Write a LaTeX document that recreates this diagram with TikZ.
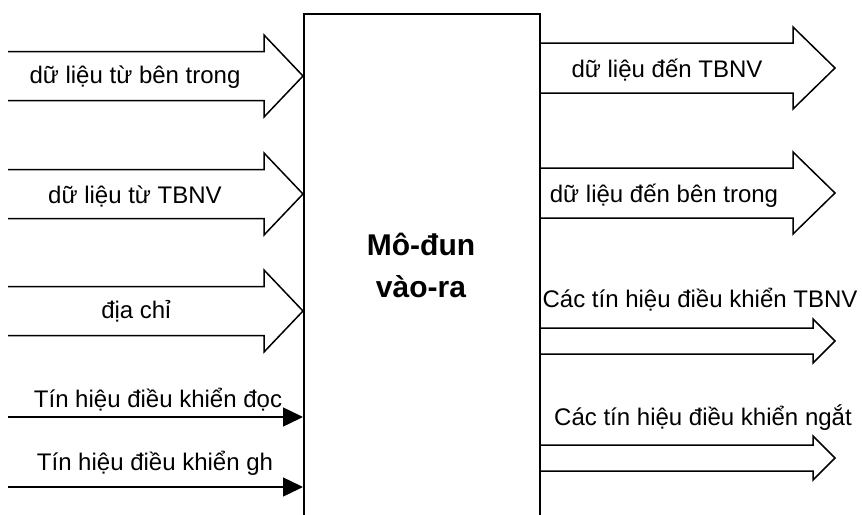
\documentclass[tikz,border=0pt]{standalone}
\usepackage{fontspec}
\setmainfont{Liberation Sans}
\usetikzlibrary{arrows.meta}
\begin{document}
\begin{tikzpicture}[x=1pt,y=-1pt,line width=1.5pt,
  lbl/.style={anchor=base,inner sep=0pt,font=\fontsize{24}{28}\selectfont}]
\useasboundingbox (0,0) rectangle (862,514);

\node[draw,anchor=north west,minimum width=236pt,minimum height=530pt,inner sep=0pt] (mod) at (303,13) {};
\node[align=center,font=\fontsize{30}{42}\selectfont\bfseries] (title) at (421,265) {Mô-đun\\vào-ra};

\foreach \y in {76,194,311}
  \draw (8,\y-24.5) -- (264,\y-24.5) -- (264,\y-41) -- (mod.west |- 0,\y) -- (264,\y+41) -- (264,\y+24.5) -- (8,\y+24.5);

\foreach \y in {68,193}
  \draw (mod.east |- 0,\y-25) -- (793,\y-25) -- (793,\y-41) -- (835,\y) -- (793,\y+41) -- (793,\y+25) -- (mod.east |- 0,\y+25);

\foreach \y in {341,458}
  \draw (mod.east |- 0,\y-13) -- (813,\y-13) -- (813,\y-22) -- (835,\y) -- (813,\y+22) -- (813,\y+13) -- (mod.east |- 0,\y+13);

\coordinate (rd) at (8,417);
\coordinate (wr) at (8,487);
\draw[-{Triangle[length=20pt,width=19pt]}] (rd) -- (rd -| mod.west);
\draw[-{Triangle[length=20pt,width=19pt]}] (wr) -- (wr -| mod.west);

\node[lbl] (in1) at (135,83) {dữ liệu từ bên trong};
\node[lbl] (in2) at (135,203) {dữ liệu từ TBNV};
\node[lbl] (addr) at (136,318) {địa chỉ};
\node[lbl] (rdl) at (158,407) {Tín hiệu điều khiển đọc};
\node[lbl] (wrl) at (155,470) {Tín hiệu điều khiển gh};

\node[lbl] (out1) at (667,77) {dữ liệu đến TBNV};
\node[lbl] (out2) at (664,202) {dữ liệu đến bên trong};
\node[lbl] (ctl) at (700,307) {Các tín hiệu điều khiển TBNV};
\node[lbl] (irq) at (703,425) {Các tín hiệu điều khiển ngắt};
\end{tikzpicture}
\end{document}
